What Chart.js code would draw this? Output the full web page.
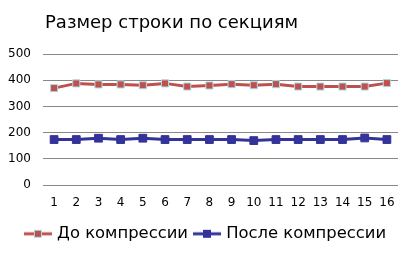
<!DOCTYPE html>
<html>
<head>
<meta charset="utf-8">
<script src="https://cdn.jsdelivr.net/npm/chart.js@4"></script>
<style>
  html, body { margin: 0; padding: 0; background: #fff; }
  #wrap { width: 413px; height: 256px; }
</style>
</head>
<body>
<div id="wrap"><canvas id="sizeChart" width="413" height="256"></canvas></div>
<script>
const titleText = 'Размер строки по секциям';
const sections = ['1','2','3','4','5','6','7','8','9','10','11','12','13','14','15','16'];
const beforeValues = [370, 388, 384, 384, 381, 388, 376, 380, 385, 381, 385, 376, 376, 376, 376, 389];
const afterValues = [174, 174, 179, 174, 179, 174, 174, 174, 174, 170, 174, 174, 174, 174, 180, 174];
const seriesNames = ['До компрессии', 'После компрессии'];

// legend marker: short line with a square in the middle
function legendIcon(lineColor, boxColor, borderColor) {
    const c = document.createElement('canvas');
    c.width = 28; c.height = 10;
    const g = c.getContext('2d');
    g.strokeStyle = lineColor;
    g.lineWidth = 3;
    g.beginPath(); g.moveTo(0, 5); g.lineTo(28, 5); g.stroke();
    g.fillStyle = boxColor;
    g.fillRect(10, 1, 8, 8);
    if (borderColor) {
        g.strokeStyle = borderColor;
        g.lineWidth = 1;
        g.strokeRect(10.5, 1.5, 7, 7);
    }
    return c;
}

const titlePlugin = {
    id: 'leftTitle',
    afterDraw(chart) {
        const g = chart.ctx;
        g.save();
        g.fillStyle = '#000';
        g.font = '18px "DejaVu Sans"';
        g.textBaseline = 'middle';
        g.fillText(titleText, 45, 23);
        g.restore();
    }
};

const ctx = document.getElementById('sizeChart').getContext('2d');
new Chart(ctx, {
    type: 'line',
    data: {
        labels: sections,
        datasets: [{
            label: seriesNames[0],
            data: beforeValues,
            borderColor: '#C0504D',
            borderWidth: 3,
            pointStyle: 'rect',
            pointRadius: 5,
            pointBackgroundColor: '#C0504D',
            pointBorderColor: '#A9DCE3',
            pointBorderWidth: 1,
            tension: 0
        }, {
            label: seriesNames[1],
            data: afterValues,
            borderColor: '#333399',
            borderWidth: 3,
            pointStyle: 'rect',
            pointRadius: 5.5,
            pointBackgroundColor: '#333399',
            pointBorderColor: '#333399',
            pointBorderWidth: 1,
            tension: 0
        }]
    },
    options: {
        responsive: false,
        animation: false,
        layout: { padding: { top: 54, right: 0, left: 0, bottom: 4 } },
        plugins: {
            title: { display: false },
            tooltip: { enabled: false },
            legend: {
                position: 'bottom',
                labels: {
                    color: '#000',
                    font: { family: 'DejaVu Sans', size: 16.4 },
                    usePointStyle: true,
                    pointStyleWidth: 22,
                    boxHeight: 10,
                    padding: 8,
                    generateLabels: (chart) => [
                        { text: seriesNames[0], pointStyle: legendIcon('#C0504D', '#C0504D', '#A9DCE3'), fontColor: '#000', lineWidth: 0, datasetIndex: 0 },
                        { text: seriesNames[1], pointStyle: legendIcon('#333399', '#333399'), fontColor: '#000', lineWidth: 0, datasetIndex: 1 }
                    ]
                }
            }
        },
        scales: {
            x: {
                offset: true,
                afterFit: (scale) => { scale.height += 6; },
                grid: { display: false },
                border: { display: false },
                ticks: { color: '#000', font: { family: 'DejaVu Sans', size: 12 }, maxRotation: 0, autoSkip: false, padding: 2 }
            },
            y: {
                min: 0,
                max: 500,
                afterFit: (scale) => { scale.width = 43; },
                ticks: { stepSize: 100, color: '#000', font: { family: 'DejaVu Sans', size: 12 }, padding: 12 },
                grid: { color: '#888888', drawTicks: false, lineWidth: 1 },
                border: { display: false }
            },
            // empty right-hand spacer so the legend stays centred on the whole canvas
            spacer: {
                type: 'linear',
                position: 'right',
                display: true,
                grid: { display: false, drawTicks: false },
                border: { display: false },
                ticks: { display: false },
                afterFit: (scale) => { scale.width = 15; }
            }
        }
    },
    plugins: [titlePlugin]
});
</script>
</body>
</html>
